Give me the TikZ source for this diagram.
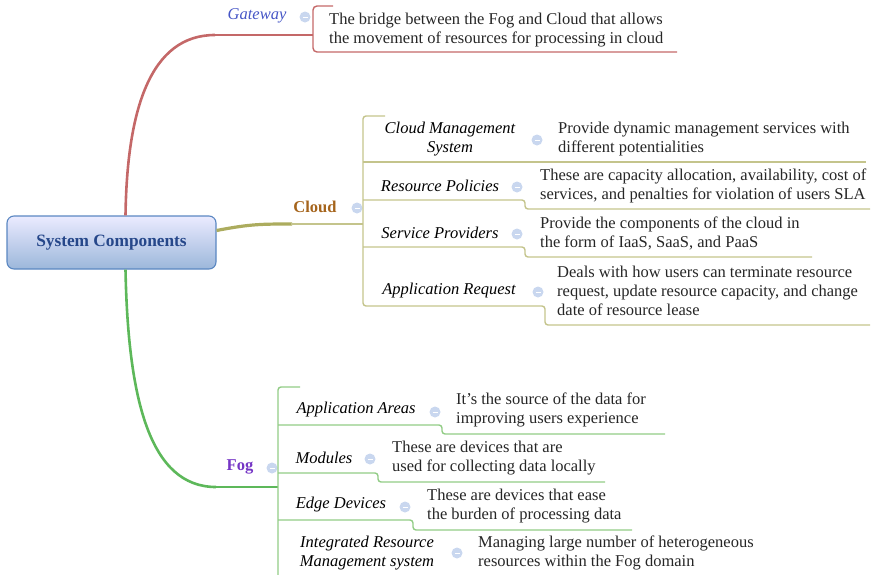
\documentclass[tikz,border=0pt]{standalone}
\usepackage{fontspec}
\setmainfont{LiberationSerif}[Extension=.ttf, UprightFont=*-Regular,
 BoldFont=*-Bold, ItalicFont=*-Italic, BoldItalicFont=*-BoldItalic]
\usetikzlibrary{positioning}
\newcommand\mapsize{\fontsize{16.5}{19}\selectfont}
\definecolor{gwred}{HTML}{C46868}
\definecolor{gwblue}{HTML}{4656C6}
\definecolor{cloudol}{HTML}{ACAC5E}
\definecolor{cloudln}{HTML}{C4C48C}
\definecolor{cloudtx}{HTML}{A5641C}
\definecolor{fogg}{HTML}{5DB85A}
\definecolor{fogln}{HTML}{92CC86}
\definecolor{fogtx}{HTML}{7535C5}
\definecolor{rootbd}{HTML}{5A87C2}
\definecolor{roottx}{HTML}{26478A}
\definecolor{foldbl}{HTML}{C9D7EF}

\begin{document}
\begin{tikzpicture}[x=1pt, y=-1pt, font=\mapsize,
 root/.style={draw=rootbd, line width=1.1pt, rounded corners=7pt,
 top color=blue!8!white, bottom color=rootbd!60!white,
 minimum width=209pt, minimum height=53pt, text=roottx,
 font=\fontsize{17.3}{19}\selectfont\bfseries},
 branch/.style={inner sep=0pt, font=\mapsize\bfseries},
 topic/.style={inner sep=0pt, align=center, font=\mapsize\itshape},
 note/.style={inner sep=0pt, align=left, anchor=west, text=black!85},
 fold/.style={circle, fill=foldbl, minimum size=11pt, inner sep=0pt,
 path picture={\draw[white, line width=.8pt]
 ([xshift=-2.5pt]path picture bounding box.center) --
 ([xshift=2.5pt]path picture bounding box.center);}},
 cline/.style={cloudln, line width=1.4pt, rounded corners=3pt},
 fline/.style={fogln, line width=1.4pt, rounded corners=3pt}]
\useasboundingbox (0,0) rectangle (871,574);

% centre topic
\node[root] (sys) at (111.5,242.5) {System Components};

% gateway
\node[topic, text=gwblue] (gw) at (257,16) {Gateway};
\node[fold] (gwf) at (305,17) {};
\node[note] (gwn) at (329,30) {The bridge between the Fog and Cloud that allows\\the movement of resources for processing in cloud};
\coordinate (gwj) at (313,35);
\draw[gwred, line width=2.6pt] ([xshift=14pt]sys.north) .. controls (127,110) and (150,35) .. (215,35);
\draw[gwred, line width=1.5pt] (214,35) -- (gwj);
\draw[gwred, line width=1.4pt, rounded corners=4pt] (333,6) -- (313,6) -- (313,52) -- (677,52);

% cloud
\node[branch, text=cloudtx] (cloud) at (315,207) {Cloud};
\node[fold] (cloudf) at (357,208) {};
\coordinate (cj) at (363,224);
\draw[cloudol, line width=3.2pt] ([yshift=12pt]sys.east) .. controls (250,224) and (262,224) .. (292,224);
\draw[cloudln, line width=1.5pt] (291,224) -- (cj);
\draw[cline] (385,116) -- (363,116) -- (363,306) -- (545,306) -- (545,325) -- (870,325);
\draw[cline] (363,162) -- (866,162);
\draw[cline] (363,200) -- (525,200) -- (525,209) -- (870,209);
\draw[cline] (363,247) -- (525,247) -- (525,257) -- (812,257);

\node[topic] (cms) at (450,139) {Cloud Management\\System};
\node[fold] (cmsf) at (537,140) {};
\node[note] (cmsn) at (558,139) {Provide dynamic management services with\\different potentialities};

\node[topic] (rp) at (440,186) {Resource Policies};
\node[fold] (rpf) at (517,187) {};
\node[note] (rpn) at (540,186) {These are capacity allocation, availability, cost of\\services, and penalties for violation of users SLA};

\node[topic] (sp) at (440,233) {Service Providers};
\node[fold] (spf) at (517,234) {};
\node[note] (spn) at (540,233) {Provide the components of the cloud in\\the form of IaaS, SaaS, and PaaS};

\node[topic] (ar) at (449,291) {Application Request};
\node[fold] (arf) at (538,292) {};
\node[note] (arn) at (557,291) {Deals with how users can terminate resource\\request, update resource capacity, and change\\date of resource lease};

% fog
\node[branch, text=fogtx] (fog) at (240,467) {Fog};
\node[fold] (fogf) at (272,468) {};
\coordinate (fj) at (278,487);
\draw[fogg, line width=2.6pt] ([xshift=14pt]sys.south) .. controls (128,400) and (150,487) .. (216,487);
\draw[fogg, line width=1.5pt] (215,487) -- (fj);
\draw[fline] (300,387) -- (278,387) -- (278,575);
\draw[fline] (278,425) -- (442,425) -- (442,434) -- (665,434);
\draw[fline] (278,473) -- (378,473) -- (378,482) -- (605,482);
\draw[fline] (278,520) -- (413,520) -- (413,530) -- (632,530);

\node[topic] (aa) at (356,410) {Application Areas};
\node[fold] (aaf) at (435,412) {};
\node[note] (aan) at (456,410) {It's the source of the data for\\improving users experience};

\node[topic] (mod) at (324,458) {Modules};
\node[fold] (modf) at (370,459) {};
\node[note] (modn) at (392,458) {These are devices that are\\used for collecting data locally};

\node[topic] (ed) at (341,505) {Edge Devices};
\node[fold] (edf) at (405,507) {};
\node[note] (edn) at (427,506) {These are devices that ease\\the burden of processing data};

\node[topic] (irm) at (367,553) {Integrated Resource\\Management system};
\node[fold] (irmf) at (457,553) {};
\node[note] (irmn) at (478,553) {Managing large number of heterogeneous\\resources within the Fog domain};
\end{tikzpicture}
\end{document}
